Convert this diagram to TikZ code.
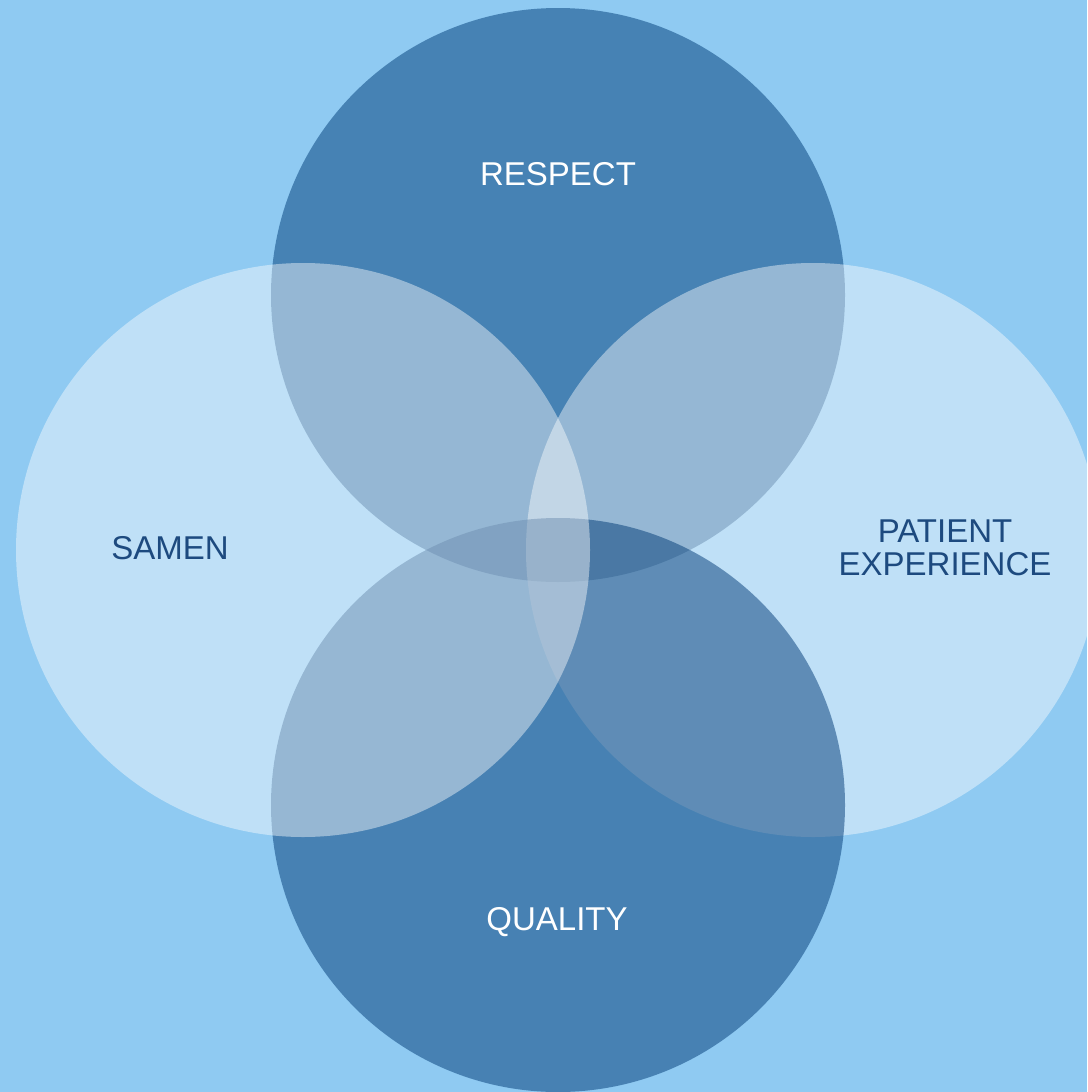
\documentclass[tikz,border=0pt]{standalone}
\usepackage{fontspec}
\setmainfont{Liberation Sans}
\definecolor{bgc}{HTML}{8FCAF2}
\definecolor{darkc}{HTML}{4682B4}
\definecolor{navyc}{HTML}{003A76}
\definecolor{txtc}{HTML}{1D4A7F}
\tikzset{
  lightdisc/.style={fill=white, fill opacity=0.43},
  darkdisc/.style={fill=darkc},
  navydisc/.style={fill=navyc, fill opacity=0.5},
  lbl/.style={font=\fontsize{33}{33}\selectfont, align=center, inner sep=0pt},
}
\begin{document}
\begin{tikzpicture}[x=1pt,y=-1pt]
\fill[bgc] (0,0) rectangle (1087,1092);
\useasboundingbox (0,0) rectangle (1087,1092);
\fill[darkdisc] (558,295) circle[radius=287];
\fill[lightdisc] (813,550) circle[radius=287];
\fill[navydisc] (558,805) circle[radius=287];
\fill[lightdisc] (303,550) circle[radius=287];
\node[lbl, text=white] (respect) at (558,174) {RESPECT};
\node[lbl, text=white] (quality) at (557,922) {QUALITY};
\node[lbl, text=txtc] (samen) at (170,548) {SAMEN};
\node[lbl, text=txtc] (patient) at (945,548) {PATIENT\\EXPERIENCE};
\end{tikzpicture}
\end{document}
